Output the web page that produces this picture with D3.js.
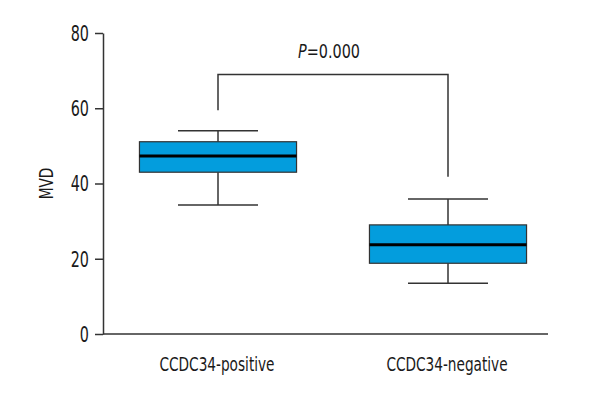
<!DOCTYPE html>
<html><head><meta charset="utf-8">
<script src="https://cdn.jsdelivr.net/npm/d3@7"></script>
<style>
body{margin:0;background:#fff;}
text{font-family:"DejaVu Sans Condensed","DejaVu Sans",sans-serif;font-stretch:condensed;fill:#1a1a1a;}
</style></head>
<body><svg id="c" width="600" height="400"></svg>
<script>
const categories = ["CCDC34-positive", "CCDC34-negative"];
const whiskerLow = [34.3, 13.5];
const q1 = [43.0, 18.8];
const median = [47.3, 23.7];
const q3 = [51.1, 29.0];
const whiskerHigh = [54.0, 35.9];
const yTicks = [0, 20, 40, 60, 80];
const bracketTop = 69.0;
const bracketLegs = [59.5, 41.8];
const pLabel = "0.000";

const svg = d3.select("#c");
const y = d3.scaleLinear().domain([0, 80]).range([334, 33]);
const x = d3.scaleBand().domain(categories).range([103, 563]).paddingInner(0.317).paddingOuter(0.1585);
const axisRight = 548;
const capW = 80;
const stroke = "#333";
const K = 0.76; // horizontal condensing of text

// y axis
const ya = svg.append("g").attr("transform", "translate(103,0)")
  .call(d3.axisLeft(y).tickValues(yTicks).tickSize(8).tickPadding(6).tickSizeOuter(0));
ya.select(".domain").attr("stroke", stroke).attr("stroke-width", 1.5);
ya.selectAll(".tick line").attr("stroke", stroke).attr("stroke-width", 1.5);
ya.selectAll(".tick text").style("font-size", "21px").attr("fill", "#1a1a1a")
  .attr("x", -14 / K).attr("dy", "0.35em").attr("transform", `scale(${K},1)`);

// x axis line
svg.append("line").attr("x1", 103).attr("x2", axisRight).attr("y1", y(0)).attr("y2", y(0))
  .attr("stroke", stroke).attr("stroke-width", 1.5);
svg.append("g").selectAll("text").data(categories).join("text")
  .attr("transform", d => `translate(${x(d) + x.bandwidth() / 2 - 1},371) scale(${K + 0.04},1)`)
  .attr("text-anchor", "middle").style("font-size", "19px").text(d => d);

// y label
svg.append("text").attr("transform", `translate(53,${y(40)}) rotate(-90) scale(${K + 0.04},1)`)
  .attr("text-anchor", "middle").style("font-size", "19px").text("MVD");

// boxes
const g = svg.append("g");
categories.forEach((c, i) => {
  const cx = x(c) + x.bandwidth() / 2;
  g.append("line").attr("x1", cx).attr("x2", cx).attr("y1", y(whiskerHigh[i])).attr("y2", y(q3[i]))
    .attr("stroke", stroke).attr("stroke-width", 1.5);
  g.append("line").attr("x1", cx).attr("x2", cx).attr("y1", y(q1[i])).attr("y2", y(whiskerLow[i]))
    .attr("stroke", stroke).attr("stroke-width", 1.5);
  [whiskerHigh[i], whiskerLow[i]].forEach(v => {
    g.append("line").attr("x1", cx - capW / 2).attr("x2", cx + capW / 2).attr("y1", y(v)).attr("y2", y(v))
      .attr("stroke", stroke).attr("stroke-width", 1.5);
  });
  g.append("rect").attr("x", x(c)).attr("width", x.bandwidth())
    .attr("y", y(q3[i])).attr("height", y(q1[i]) - y(q3[i]))
    .attr("fill", "#039ddd").attr("stroke", "#333").attr("stroke-width", 1.2);
  g.append("line").attr("x1", x(c)).attr("x2", x(c) + x.bandwidth()).attr("y1", y(median[i])).attr("y2", y(median[i]))
    .attr("stroke", "#000").attr("stroke-width", 3);
});

// significance bracket
const cx0 = x(categories[0]) + x.bandwidth() / 2;
const cx1 = x(categories[1]) + x.bandwidth() / 2;
svg.append("path")
  .attr("d", `M${cx0},${y(bracketLegs[0])}V${y(bracketTop)}H${cx1}V${y(bracketLegs[1])}`)
  .attr("fill", "none").attr("stroke", stroke).attr("stroke-width", 1.5);
const pt = svg.append("text").attr("transform", `translate(${(cx0 + cx1) / 2 - 4},58) scale(${K + 0.04},1)`)
  .attr("text-anchor", "middle").style("font-size", "20px");
pt.append("tspan").attr("font-style", "italic").text("P");
pt.append("tspan").text("=" + pLabel);
</script></body></html>
